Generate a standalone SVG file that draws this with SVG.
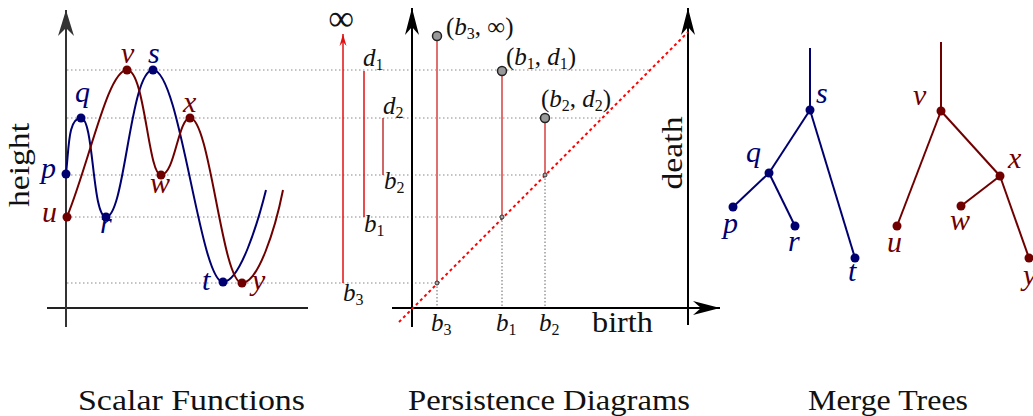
<svg xmlns="http://www.w3.org/2000/svg" width="1033" height="416" viewBox="0 0 1033 416">
<style>
.lb{font-style:italic;font-size:30px;}
.bl{fill:#000070;}
.rd{fill:#700000;}
.cap{font-size:30px;fill:#111;}
.ax{font-size:30px;fill:#111;}
.pd{font-size:25px;fill:#111;}
.sub{font-size:16px;font-style:normal;}
.dot{stroke:#888;stroke-width:1;stroke-dasharray:1.5 2.5;fill:none;}
.vdot{stroke:#666;stroke-width:1;stroke-dasharray:1.5 2;fill:none;}
.cb{stroke:#000070;stroke-width:2;fill:none;}
.cr{stroke:#700000;stroke-width:2;fill:none;}
.pdbar{stroke:#e07070;stroke-width:2;}
.big{fill:#999;stroke:#222;stroke-width:1.5;}
.small{fill:#aaa;stroke:#333;stroke-width:1;}
</style>
<defs>
<marker id="stk" markerUnits="userSpaceOnUse" markerWidth="30" markerHeight="20" viewBox="-28 -8 30 16" refX="0" refY="0" orient="auto">
<path d="M0,0 L-27,-7 L-19,0 L-27,7 Z" fill="#000"/>
</marker>
<marker id="stkg" markerUnits="userSpaceOnUse" markerWidth="30" markerHeight="20" viewBox="-28 -9 30 18" refX="0" refY="0" orient="auto">
<path d="M0,0 L-26,-8 L-18,0 L-26,8 Z" fill="#333"/>
</marker>
<marker id="stkr" markerUnits="userSpaceOnUse" markerWidth="14" markerHeight="10" viewBox="-13 -4 14 8" refX="0" refY="0" orient="auto">
<path d="M0,0 L-12,-3.5 L-8,0 L-12,3.5 Z" fill="#e01010"/>
</marker>
</defs>

<g id="guides">
<line class="dot" x1="67" y1="70" x2="650" y2="70"/>
<line class="dot" x1="67" y1="118" x2="602" y2="118"/>
<line class="dot" x1="67" y1="175" x2="545" y2="175"/>
<line class="dot" x1="67" y1="217" x2="502" y2="217"/>
<line class="dot" x1="67" y1="283" x2="437" y2="283"/>
<line class="vdot" x1="437" y1="283" x2="437" y2="308"/>
<line class="vdot" x1="502" y1="217" x2="502" y2="308"/>
<line class="vdot" x1="545" y1="175" x2="545" y2="308"/>
</g>

<g id="scalar-axes">
<line x1="47" y1="308" x2="308" y2="308" stroke="#222" stroke-width="2"/>
<line x1="66" y1="327" x2="66" y2="10" stroke="#333" stroke-width="2" marker-end="url(#stkg)"/>
<text class="ax" style="font-family:'Liberation Serif',serif" transform="translate(29,165) rotate(-90)" text-anchor="middle" font-size="31" textLength="84" lengthAdjust="spacingAndGlyphs">height</text>
</g>
<g id="connectors">
<path class="cb" d="M66,174 C69,148 68,118 81,118 C94,118 92,217 106,217 C125,217 130,70 153,70 C180,70 200,282 223,282 C240,282 258,222 266,190"/>
<path class="cr" d="M67,217 C90,160 108,70 127,70 C145,70 148,175 161,175 C175,175 178,118 190,118 C210,118 222,283 242,283 C258,283 275,230 283,190"/>
<line class="cb" x1="810" y1="48" x2="810" y2="110"/>
<line class="cb" x1="810" y1="110" x2="769" y2="173"/>
<line class="cb" x1="769" y1="173" x2="733" y2="207"/>
<line class="cb" x1="769" y1="173" x2="795" y2="226"/>
<line class="cb" x1="810" y1="110" x2="855" y2="258"/>
<line class="cr" x1="941" y1="42" x2="941" y2="111"/>
<line class="cr" x1="941" y1="111" x2="897" y2="226"/>
<line class="cr" x1="941" y1="111" x2="1000" y2="176"/>
<line class="cr" x1="1000" y1="176" x2="961" y2="206"/>
<line class="cr" x1="1000" y1="176" x2="1029" y2="258"/>
</g>
<g id="sf-p"><circle class="bl" cx="66" cy="174" r="4.5"/><text class="lb bl" style="font-family:'Liberation Serif',serif" x="41" y="178">p</text></g>
<g id="sf-q"><circle class="bl" cx="81" cy="118" r="4.5"/><text class="lb bl" style="font-family:'Liberation Serif',serif" x="75" y="102">q</text></g>
<g id="sf-r"><circle class="bl" cx="106" cy="217" r="4.5"/><text class="lb bl" style="font-family:'Liberation Serif',serif" x="100" y="233">r</text></g>
<g id="sf-s"><circle class="bl" cx="153" cy="70" r="4.5"/><text class="lb bl" style="font-family:'Liberation Serif',serif" x="148" y="63">s</text></g>
<g id="sf-t"><circle class="bl" cx="223" cy="282" r="4.5"/><text class="lb bl" style="font-family:'Liberation Serif',serif" x="202" y="290">t</text></g>
<g id="sf-u"><circle class="rd" cx="67" cy="217" r="4.5"/><text class="lb rd" style="font-family:'Liberation Serif',serif" x="42" y="222">u</text></g>
<g id="sf-v"><circle class="rd" cx="127" cy="70" r="4.5"/><text class="lb rd" style="font-family:'Liberation Serif',serif" x="121" y="63">v</text></g>
<g id="sf-w"><circle class="rd" cx="161" cy="175" r="4.5"/><text class="lb rd" style="font-family:'Liberation Serif',serif" x="150" y="193">w</text></g>
<g id="sf-x"><circle class="rd" cx="190" cy="118" r="4.5"/><text class="lb rd" style="font-family:'Liberation Serif',serif" x="183" y="112">x</text></g>
<g id="sf-y"><circle class="rd" cx="242" cy="283" r="4.5"/><text class="lb rd" style="font-family:'Liberation Serif',serif" x="252" y="290">y</text></g>

<g id="barcode">
<text x="341" y="30" text-anchor="middle" font-size="36" fill="#111" style="font-family:'Liberation Serif',serif">∞</text>
<line x1="343" y1="283" x2="343" y2="34" stroke="#e01010" stroke-width="1.5" marker-end="url(#stkr)"/>
<line x1="364" y1="71" x2="364" y2="217" stroke="#e01010" stroke-width="1.5"/>
<line x1="383" y1="118" x2="383" y2="175" stroke="#b00000" stroke-width="1.2"/>
<text class="pd" style="font-family:'Liberation Serif',serif" x="363" y="66"><tspan font-style="italic">d</tspan><tspan class="sub" dy="4">1</tspan></text>
<text class="pd" style="font-family:'Liberation Serif',serif" x="383" y="114"><tspan font-style="italic">d</tspan><tspan class="sub" dy="4">2</tspan></text>
<text class="pd" style="font-family:'Liberation Serif',serif" x="384" y="189"><tspan font-style="italic">b</tspan><tspan class="sub" dy="4">2</tspan></text>
<text class="pd" style="font-family:'Liberation Serif',serif" x="364" y="232"><tspan font-style="italic">b</tspan><tspan class="sub" dy="4">1</tspan></text>
<text class="pd" style="font-family:'Liberation Serif',serif" x="343" y="301"><tspan font-style="italic">b</tspan><tspan class="sub" dy="4">3</tspan></text>
</g>

<g id="pd-axes">
<line x1="412" y1="327" x2="412" y2="8" stroke="#000" stroke-width="2" marker-end="url(#stk)"/>
<line x1="392" y1="308" x2="720" y2="308" stroke="#000" stroke-width="2" marker-end="url(#stk)"/>
<line x1="688" y1="325" x2="688" y2="8" stroke="#000" stroke-width="2" marker-end="url(#stk)"/>
<line x1="399" y1="322" x2="688" y2="32" stroke="#f00" stroke-width="2" stroke-dasharray="3 3"/>
<text class="ax" style="font-family:'Liberation Serif',serif" x="592" y="332" textLength="61" lengthAdjust="spacingAndGlyphs">birth</text>
<text class="ax" style="font-family:'Liberation Serif',serif" transform="translate(682,153) rotate(-90)" text-anchor="middle" textLength="73" lengthAdjust="spacingAndGlyphs">death</text>
<text class="pd" style="font-family:'Liberation Serif',serif" x="431" y="331"><tspan font-style="italic">b</tspan><tspan class="sub" dy="4">3</tspan></text>
<text class="pd" style="font-family:'Liberation Serif',serif" x="496" y="331"><tspan font-style="italic">b</tspan><tspan class="sub" dy="4">1</tspan></text>
<text class="pd" style="font-family:'Liberation Serif',serif" x="539" y="331"><tspan font-style="italic">b</tspan><tspan class="sub" dy="4">2</tspan></text>
</g>
<g id="pd-b3">
<line class="pdbar" x1="437" y1="36" x2="437" y2="283"/>
<circle class="small" cx="437" cy="283" r="2"/>
<circle class="big" cx="437" cy="36" r="4.5"/>
<text class="pd" style="font-family:'Liberation Serif',serif" x="446" y="35">(<tspan font-style="italic">b</tspan><tspan class="sub" dy="4">3</tspan><tspan dy="-4">, ∞)</tspan></text>
</g>
<g id="pd-b1">
<line class="pdbar" x1="502" y1="71" x2="502" y2="217"/>
<circle class="small" cx="502" cy="217" r="2"/>
<circle class="big" cx="502" cy="71" r="4.5"/>
<text class="pd" style="font-family:'Liberation Serif',serif" x="506" y="65">(<tspan font-style="italic">b</tspan><tspan class="sub" dy="4">1</tspan><tspan dy="-4">, </tspan><tspan font-style="italic">d</tspan><tspan class="sub" dy="4">1</tspan><tspan dy="-4">)</tspan></text>
</g>
<g id="pd-b2">
<line class="pdbar" x1="545" y1="118" x2="545" y2="175"/>
<circle class="small" cx="545" cy="175" r="2"/>
<circle class="big" cx="545" cy="118" r="4.5"/>
<text class="pd" style="font-family:'Liberation Serif',serif" x="541" y="107">(<tspan font-style="italic">b</tspan><tspan class="sub" dy="4">2</tspan><tspan dy="-4">, </tspan><tspan font-style="italic">d</tspan><tspan class="sub" dy="4">2</tspan><tspan dy="-4">)</tspan></text>
</g>

<g id="mt-s"><circle class="bl" cx="810" cy="110" r="4.5"/><text class="lb bl" style="font-family:'Liberation Serif',serif" x="816" y="103">s</text></g>
<g id="mt-q"><circle class="bl" cx="769" cy="173" r="4.5"/><text class="lb bl" style="font-family:'Liberation Serif',serif" x="746" y="162">q</text></g>
<g id="mt-p"><circle class="bl" cx="733" cy="207" r="4.5"/><text class="lb bl" style="font-family:'Liberation Serif',serif" x="723" y="233">p</text></g>
<g id="mt-r"><circle class="bl" cx="795" cy="226" r="4.5"/><text class="lb bl" style="font-family:'Liberation Serif',serif" x="788" y="251">r</text></g>
<g id="mt-t"><circle class="bl" cx="855" cy="258" r="4.5"/><text class="lb bl" style="font-family:'Liberation Serif',serif" x="848" y="281">t</text></g>
<g id="mt-v"><circle class="rd" cx="941" cy="111" r="4.5"/><text class="lb rd" style="font-family:'Liberation Serif',serif" x="913" y="105">v</text></g>
<g id="mt-x"><circle class="rd" cx="1000" cy="176" r="4.5"/><text class="lb rd" style="font-family:'Liberation Serif',serif" x="1008" y="168">x</text></g>
<g id="mt-w"><circle class="rd" cx="961" cy="206" r="4.5"/><text class="lb rd" style="font-family:'Liberation Serif',serif" x="950" y="230">w</text></g>
<g id="mt-u"><circle class="rd" cx="897" cy="226" r="4.5"/><text class="lb rd" style="font-family:'Liberation Serif',serif" x="887" y="252">u</text></g>
<g id="mt-y"><circle class="rd" cx="1029" cy="258" r="4.5"/><text class="lb rd" style="font-family:'Liberation Serif',serif" x="1023" y="285">y</text></g>

<g id="captions">
<text class="cap" style="font-family:'Liberation Serif',serif" x="78" y="410" textLength="227" lengthAdjust="spacingAndGlyphs">Scalar Functions</text>
<text class="cap" style="font-family:'Liberation Serif',serif" x="408" y="410" textLength="282" lengthAdjust="spacingAndGlyphs">Persistence Diagrams</text>
<text class="cap" style="font-family:'Liberation Serif',serif" x="808" y="410" textLength="160" lengthAdjust="spacingAndGlyphs">Merge Trees</text>
</g>
</svg>
